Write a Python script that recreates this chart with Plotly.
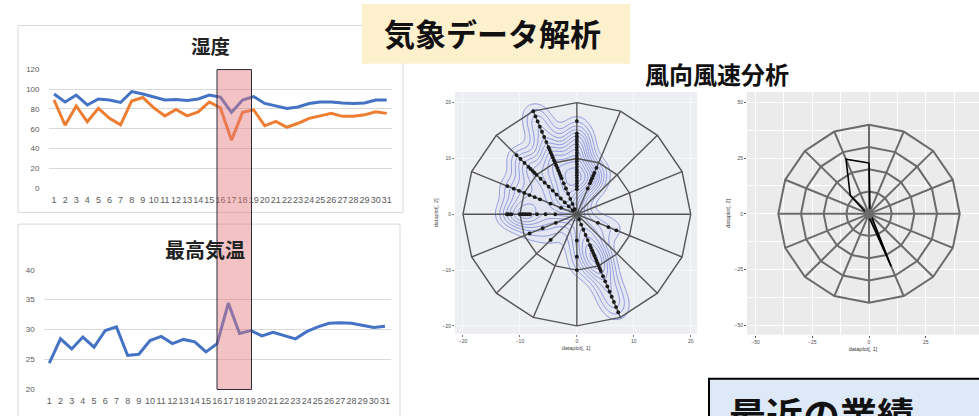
import numpy as np
import plotly.graph_objects as go

# ---------------- data ----------------
days = list(range(1, 32))
humidity_blue = [95, 87, 94, 84, 90, 89, 86.5, 97.5, 95, 92, 89, 89.5, 88.5, 90, 94, 92,
                 76.5, 89, 92.5, 85.5, 83, 80.5, 82, 85.5, 87, 87, 86, 85.5, 86, 89, 89]
humidity_orange = [89, 63.5, 83, 67, 80.5, 70.5, 64, 88, 91.5, 81, 73, 79.5, 73, 77, 87, 81,
                   48.5, 76.5, 79, 63, 67.5, 61.5, 65.5, 70.5, 73, 75.5, 72.5, 72.5, 74, 77, 75.5]
temp_max = [24.3, 28.4, 26.7, 28.7, 27.0, 29.8, 30.4, 25.6, 25.8, 28.1, 28.8, 27.6, 28.3, 27.9,
            26.2, 27.6, 34.4, 29.3, 29.8, 28.9, 29.5, 29.0, 28.4, 29.6, 30.4, 31.0, 31.1, 31.0,
            30.6, 30.3, 30.5]

hum_ticks = [0, 20, 40, 60, 80, 100, 120]
temp_ticks = [20, 25, 30, 35, 40]

# 16 compass directions (degrees clockwise from north)
dir_names = ["N", "NNE", "NE", "ENE", "E", "ESE", "SE", "SSE",
             "S", "SSW", "SW", "WSW", "W", "WNW", "NW", "NNW"]
dir_deg = [0, 22.5, 45, 67.5, 90, 112.5, 135, 157.5,
           180, 202.5, 225, 247.5, 270, 292.5, 315, 337.5]

# observed wind samples (speed) per direction, left scatter/density plot
pts_N = [4.5, 5, 5.5, 6, 6.5, 7, 7.5, 8, 8.5, 9, 9.5, 10, 10.5, 11, 11.5, 12, 12.5, 13,
         13.5, 14, 14.5, 16.7]
pts_NNE = [5, 6, 6.5, 7, 7.5, 8, 9]
pts_NNW = [1, 2, 3, 4, 5, 6, 7, 7.5, 8, 8.5, 9, 9.5, 10, 10.5, 11, 11.5, 12, 12.5, 13, 14,
           15, 16, 17, 18, 19, 20]
pts_NW = [1, 2, 3, 4, 5, 6, 7, 8, 9, 10, 10.5, 11, 11.5, 12, 13, 14, 15]
pts_WNW = [3, 5, 7, 8, 9, 10, 11, 12, 13.2]
pts_W = [3.8, 5.5, 7, 8.2, 8.6, 9, 9.3, 9.6, 10, 11.5, 12, 12.3]
pts_WSW = [4, 6.5, 9]
pts_SW = [6.5]
pts_S = [4.7, 7.6, 10]
pts_SSE = [1, 2, 3, 4, 5, 6, 6.5, 7, 7.5, 8, 8.5, 9, 9.5, 10, 10.5, 11, 12, 13, 14, 15,
           16, 17, 18, 19]
pts_ESE = [4, 6, 7.5]
left_rings = [10, 20]

# mean wind speed per direction, right radar plot
mean_speed = [22.8, 0.5, 0.5, 0.5, 0.5, 0.5, 1.5, 25.6, 1.5, 0.5, 0.5, 0.5, 1.0, 1.5, 11.7, 26.5]
right_rings = [10, 20, 30, 40]

W, H = 979, 416
def px(x):
    return x / W
def py(y):
    return 1 - y / H

def xy(deg, r):
    a = np.deg2rad(90 - np.asarray(deg, dtype=float))
    r = np.asarray(r, dtype=float)
    return r * np.cos(a), r * np.sin(a)

def grid_traces(rings, xa, ya, color, width):
    gx, gy = [], []
    for r in rings:
        x, y = xy(dir_deg + [dir_deg[0]], [r] * 17)
        gx += list(x) + [None]
        gy += list(y) + [None]
    for d in dir_deg:
        x, y = xy([d, d], [0, rings[-1]])
        gx += list(x) + [None]
        gy += list(y) + [None]
    return go.Scatter(x=gx, y=gy, mode="lines", xaxis=xa, yaxis=ya,
                      line=dict(color=color, width=width), hoverinfo="skip", showlegend=False)

fig = go.Figure()

# humidity lines
fig.add_trace(go.Scatter(x=days, y=humidity_blue, mode="lines", line=dict(color="#4472c4", width=3),
                         xaxis="x", yaxis="y", showlegend=False))
fig.add_trace(go.Scatter(x=days, y=humidity_orange, mode="lines", line=dict(color="#ed7d31", width=3),
                         xaxis="x", yaxis="y", showlegend=False))
# temperature line
fig.add_trace(go.Scatter(x=days, y=temp_max, mode="lines", line=dict(color="#4472c4", width=3),
                         xaxis="x2", yaxis="y2", showlegend=False))

# left wind plot: density + points
pt_groups = [(0, pts_N), (22.5, pts_NNE), (337.5, pts_NNW), (315, pts_NW), (292.5, pts_WNW),
             (270, pts_W), (247.5, pts_WSW), (225, pts_SW), (180, pts_S), (157.5, pts_SSE),
             (112.5, pts_ESE)]
px_all, py_all = [], []
for d, speeds in pt_groups:
    x, y = xy([d] * len(speeds), speeds)
    px_all += list(x)
    py_all += list(y)
px_all = np.array(px_all)
py_all = np.array(py_all)

gxs = np.linspace(-21, 21, 160)
gys = np.linspace(-21, 21, 160)
GX, GY = np.meshgrid(gxs, gys)
bw = 1.9
Z = np.zeros_like(GX)
for a, b in zip(px_all, py_all):
    Z += np.exp(-((GX - a) ** 2 + (GY - b) ** 2) / (2 * bw ** 2))
Z /= Z.max()
fig.add_trace(go.Contour(x=gxs, y=gys, z=Z, xaxis="x3", yaxis="y3", showscale=False,
                         contours=dict(coloring="heatmap", start=0.12, end=0.13, size=1),
                         zmin=0.0, zmax=1.0,
                         colorscale=[[0, "rgba(255,255,255,0)"], [0.119, "rgba(255,255,255,0)"],
                                     [0.12, "rgba(140,150,225,0.07)"], [1, "rgba(140,150,225,0.16)"]],
                         line=dict(width=0), hoverinfo="skip"))
fig.add_trace(go.Contour(x=gxs, y=gys, z=Z, xaxis="x3", yaxis="y3", showscale=False,
                         contours=dict(coloring="lines", start=0.12, end=0.95, size=0.075),
                         colorscale=[[0, "#6a78d6"], [1, "#6a78d6"]],
                         line=dict(width=0.7), hoverinfo="skip"))
fig.add_trace(grid_traces(left_rings, "x3", "y3", "#555555", 1.4))
fig.add_trace(go.Scatter(x=px_all, y=py_all, mode="markers", xaxis="x3", yaxis="y3",
                         marker=dict(color="#1a1a1a", size=3.8), showlegend=False, hoverinfo="skip"))

# right radar plot
fig.add_trace(grid_traces(right_rings, "x4", "y4", "#6b6b6b", 2))
rx, ry = xy(dir_deg + [dir_deg[0]], mean_speed + [mean_speed[0]])
fig.add_trace(go.Scatter(x=rx, y=ry, mode="lines", xaxis="x4", yaxis="y4",
                         line=dict(color="#000000", width=1.6), showlegend=False))
cx, cy = xy([0], [0])
fig.add_trace(go.Scatter(x=cx, y=cy, mode="markers", xaxis="x4", yaxis="y4",
                         marker=dict(color="#6b6b6b", size=10), showlegend=False))

tickf = dict(family="Liberation Sans", size=8, color="#595959")
gg = dict(family="Liberation Sans", size=5, color="#4d4d4d")
xlab = dict(family="Liberation Sans", size=9, color="#595959")

fig.update_layout(
    width=W, height=H, margin=dict(l=0, r=0, t=0, b=0),
    paper_bgcolor="white", plot_bgcolor="rgba(0,0,0,0)",
    xaxis=dict(domain=[px(48.5), px(392.3)], range=[0.5, 31.5], anchor="y", tickvals=days,
               ticktext=[str(d) for d in days], tickangle=0, showgrid=False, zeroline=False,
               showline=False, ticks="", tickfont=xlab, ticklabelstandoff=5),
    yaxis=dict(domain=[py(188.3), py(66.7)], range=[0, 120], anchor="x", tickvals=hum_ticks,
               showgrid=True, gridcolor="#d9d9d9", gridwidth=1, zeroline=False, ticks="",
               tickfont=tickf, ticklabelstandoff=8),
    xaxis2=dict(domain=[px(43.7), px(390.6)], range=[0.5, 31.5], anchor="y2", tickvals=days,
                ticktext=[str(d) for d in days], tickangle=0, showgrid=False, zeroline=False,
                showline=False, ticks="", tickfont=xlab, ticklabelstandoff=5),
    yaxis2=dict(domain=[py(393.3), py(271.7)], range=[20, 40], anchor="x2", tickvals=temp_ticks,
                showgrid=True, gridcolor="#d9d9d9", gridwidth=1, zeroline=False, ticks="",
                tickfont=tickf, ticklabelstandoff=8),
    xaxis3=dict(domain=[px(455), px(697)], range=[-21.4, 21.1], anchor="y3", tickvals=[-20, -10, 0, 10, 20],
                showgrid=True, gridcolor="#f6f7f9", gridwidth=0.8, zeroline=False, ticks="outside",
                ticklen=2, tickcolor="#777", tickfont=gg,
                title=dict(text="dataplot[, 1]", font=dict(family="Liberation Sans", size=5.5, color="#444"), standoff=3)),
    yaxis3=dict(domain=[py(337), py(90)], range=[-21.4, 21.9], anchor="x3", tickvals=[-20, -10, 0, 10, 20],
                showgrid=True, gridcolor="#f6f7f9", gridwidth=0.8, zeroline=False, ticks="outside",
                ticklen=2, tickcolor="#777", tickfont=gg,
                title=dict(text="dataplot[, 2]", font=dict(family="Liberation Sans", size=5.5, color="#444"), standoff=3)),
    xaxis4=dict(domain=[px(747), 1], range=[-53.8, 48.5], anchor="y4", tickvals=[-50, -25, 0, 25],
                showgrid=True, gridcolor="white", gridwidth=1.2, zeroline=False, ticks="outside",
                ticklen=2, tickcolor="#555", tickfont=gg,
                minor=dict(dtick=12.5, tick0=0, showgrid=True, gridcolor="white", gridwidth=0.6),
                title=dict(text="dataplot[, 1]", font=dict(family="Liberation Sans", size=5.5, color="#333"), standoff=3)),
    yaxis4=dict(domain=[py(338), py(90)], range=[-54.3, 54.7], anchor="x4", tickvals=[-50, -25, 0, 25, 50],
                showgrid=True, gridcolor="white", gridwidth=1.2, zeroline=False, ticks="outside",
                ticklen=2, tickcolor="#555", tickfont=gg,
                minor=dict(dtick=12.5, tick0=0, showgrid=True, gridcolor="white", gridwidth=0.6),
                title=dict(text="dataplot[, 2]", font=dict(family="Liberation Sans", size=5.5, color="#333"), standoff=3)),
)

shapes = [
    dict(type="rect", xref="paper", yref="paper", x0=px(18), x1=px(403), y0=py(213), y1=py(22),
         line=dict(color="#d9d9d9", width=1), fillcolor="white", layer="below"),
    dict(type="rect", xref="paper", yref="paper", x0=px(18), x1=px(400), y0=py(425), y1=py(225),
         line=dict(color="#d9d9d9", width=1), fillcolor="white", layer="below"),
    dict(type="rect", xref="paper", yref="paper", x0=px(455), x1=px(697), y0=py(337), y1=py(90),
         line=dict(width=0), fillcolor="#eceef2", layer="below"),
    dict(type="rect", xref="paper", yref="paper", x0=px(747), x1=1, y0=py(338), y1=py(90),
         line=dict(width=0), fillcolor="#ebebeb", layer="below"),
    dict(type="rect", xref="paper", yref="paper", x0=px(362), x1=px(630), y0=py(61), y1=py(0),
         line=dict(width=0), fillcolor="#fdf0cd", layer="below"),
    dict(type="rect", xref="paper", yref="paper", x0=px(709), x1=px(990), y0=py(430), y1=py(383),
         line=dict(color="#000000", width=2), fillcolor="#dde9f6", layer="below"),
    dict(type="rect", xref="paper", yref="paper", x0=px(217), x1=px(251.5), y0=py(394), y1=py(67),
         line=dict(color="#2a2a3a", width=1), fillcolor="rgba(228,120,125,0.45)", layer="above"),
]
fig.update_layout(shapes=shapes)

jp = "Noto Sans CJK JP"
ann = [
    dict(text="<b>湿度</b>", x=px(210), y=py(42), size=19.5, color="#222222"),
    dict(text="<b>最高気温</b>", x=px(205), y=py(251), size=20, color="#222222"),
    dict(text="<b>気象データ解析</b>", x=px(493), y=py(29), size=31, color="#111111"),
    dict(text="<b>風向風速分析</b>", x=px(717), y=py(71), size=24, color="#111111"),
]
annotations = [dict(text=a["text"], x=a["x"], y=a["y"], xref="paper", yref="paper", showarrow=False,
                    xanchor="center", yanchor="middle", font=dict(family=jp, size=a["size"], color=a["color"]))
               for a in ann]
annotations.append(dict(text="<b>最近の業績</b>", x=px(727), y=py(389), xref="paper", yref="paper",
                        showarrow=False, xanchor="left", yanchor="top",
                        font=dict(family=jp, size=37, color="#111111")))
fig.update_layout(annotations=annotations)

fig.write_html("out.html", config={"displayModeBar": False},
               post_script="document.body.style.margin='0';document.body.style.overflow='hidden';")
